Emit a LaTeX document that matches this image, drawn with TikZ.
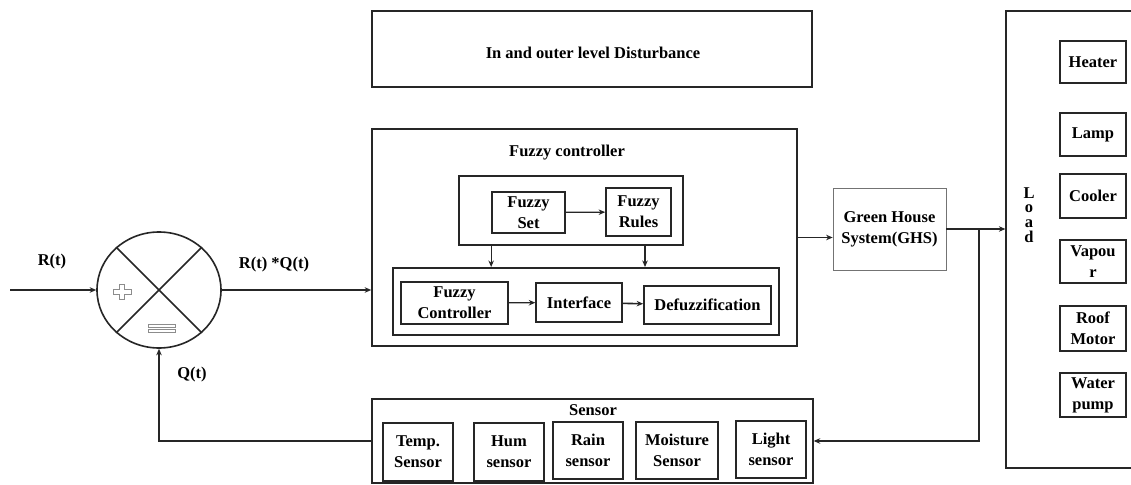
\documentclass[tikz,border=0pt]{standalone}
\usepackage{fontspec}
\setmainfont{Liberation Serif}
\usetikzlibrary{arrows.meta,shapes.geometric}
\begin{document}
\begin{tikzpicture}[x=1pt,y=-1pt,
  every node/.style={font=\bfseries\fontsize{16.5}{21}\selectfont, inner sep=0pt, align=center},
  blk/.style={draw=black!85, line width=1.7pt, rectangle},
  grp/.style={draw=black!85, line width=1.6pt, rectangle},
  ghsbox/.style={draw=black!55, line width=0.8pt, rectangle},
  lbl/.style={},
  wire/.style={draw=black!85, line width=1.5pt},
  arr/.style={wire, -{Stealth[length=6.5pt,width=5.5pt]}},
  signmark/.style={draw=black!45, line width=0.8pt}
]
\useasboundingbox (0,0) rectangle (1131,484);
\clip (0,0) rectangle (1131,484);
\fill[white] (0,0) rectangle (1131,484);

% disturbance
\node[grp, line width=2.2pt, minimum width=440, minimum height=76] (dist) at (592,49) {};
\node[lbl] (distl) at (593,53) {In and outer level Disturbance};

% fuzzy controller
\node[grp, minimum width=425, minimum height=217] (fc) at (584.5,237.5) {};
\node[lbl] (fcl) at (567,153) {Fuzzy controller};
\node[grp, line width=1.4pt, minimum width=224, minimum height=69] (topin) at (571,210.5) {};
\node[blk, minimum width=73, minimum height=41] (fset) at (528.5,212.5) {Fuzzy\\Set};
\node[blk, minimum width=65, minimum height=48] (frules) at (638.5,212) {Fuzzy\\Rules};
\node[grp, line width=2pt, minimum width=386, minimum height=67] (low) at (586,301.5) {};
\node[blk, minimum width=107, minimum height=42] (fctrl) at (454.5,303) {Fuzzy\\Controller};
\node[blk, line width=1.4pt, minimum width=86, minimum height=39] (intf) at (579,302.5) {Interface};
\node[blk, minimum width=127, minimum height=38] (defz) at (707.5,305) {Defuzzification};

% GHS
\node[ghsbox, minimum width=113, minimum height=82] (ghs) at (889.5,229) {Green House\\System(GHS)};

% load
\node[grp, line width=1.3pt, minimum width=134, minimum height=457] (load) at (1073,239.5) {};
\node[lbl, font=\bfseries\fontsize{16.5}{14.7}\selectfont] (loadl) at (1029,215) {L\\o\\a\\d};
\node[blk, minimum width=66, minimum height=42] (heater) at (1093,62) {Heater};
\node[blk, minimum width=66, minimum height=43] (lamp) at (1093,134.5) {Lamp};
\node[blk, line width=1.4pt, minimum width=66, minimum height=44] (cooler) at (1093,196) {Cooler};
\node[blk, line width=1.4pt, minimum width=66, minimum height=43] (vapour) at (1093,261.5) {Vapou\\r};
\node[blk, minimum width=66, minimum height=45] (roof) at (1093,328.5) {Roof\\Motor};
\node[blk, minimum width=66, minimum height=44] (water) at (1093,395) {Water\\pump};

% sensor
\node[grp, line width=1.4pt, minimum width=441, minimum height=84] (sensor) at (592.5,441) {};
\node[lbl] (sensl) at (593,410) {Sensor};
\node[blk, minimum width=70, minimum height=58] (temp) at (418,452) {Temp.\\Sensor};
\node[blk, minimum width=70, minimum height=58] (hum) at (509,452) {Hum\\sensor};
\node[blk, minimum width=70, minimum height=57] (rain) at (588,450.5) {Rain\\sensor};
\node[blk, minimum width=82, minimum height=57] (moist) at (677,450.5) {Moisture\\Sensor};
\node[blk, minimum width=70, minimum height=57] (light) at (771,449.5) {Light\\sensor};

% summing junction
\node[ellipse, draw=black!85, line width=1.6pt, minimum width=124, minimum height=116] (sum) at (159,290) {};
\draw[wire] (sum.45) -- (sum.225);
\draw[wire] (sum.135) -- (sum.315);
\draw[signmark, shift={(122,292)}] (-2.5,-7.5) -- (2.5,-7.5) -- (2.5,-2.5) -- (9,-2.5) -- (9,2.5) -- (2.5,2.5) -- (2.5,7.5) -- (-2.5,7.5) -- (-2.5,2.5) -- (-9,2.5) -- (-9,-2.5) -- (-2.5,-2.5) -- cycle;
\draw[signmark] (148.5,324) rectangle (175.5,327);
\draw[signmark] (148.5,329.5) rectangle (175.5,332.5);

\node[lbl] (rt) at (52,262) {R(t)};
\node[lbl] (rq) at (274,265) {R(t) *Q(t)};
\node[lbl] (qt) at (192,375) {Q(t)};

% connectors
\coordinate (in) at (10,290);
\draw[arr] (in) -- (sum.west);
\draw[arr] (sum.east) -- (sum.east -| fc.west);
\draw[arr, line width=1.2pt] (fset) -- (frules);
\draw[arr, line width=1.2pt] (fset.west |- topin.south) -- (fset.west |- low.north);
\draw[arr, line width=1.2pt] ([xshift=6.5pt]frules.south |- topin.south) -- ([xshift=6.5pt]frules.south |- low.north);
\draw[arr, line width=1.2pt] (fctrl) -- (intf);
\draw[arr, line width=1.6pt] (intf) -- (defz);
\draw[arr] (fc.east) -- (fc.east -| ghs.west);
\coordinate (br) at (979,229);
\draw[arr] (ghs.east) -- (ghs.east -| load.west);
\draw[arr] (br) |- (sensor.east);
\draw[arr] (sensor.west) -| (sum.south);
\end{tikzpicture}
\end{document}
